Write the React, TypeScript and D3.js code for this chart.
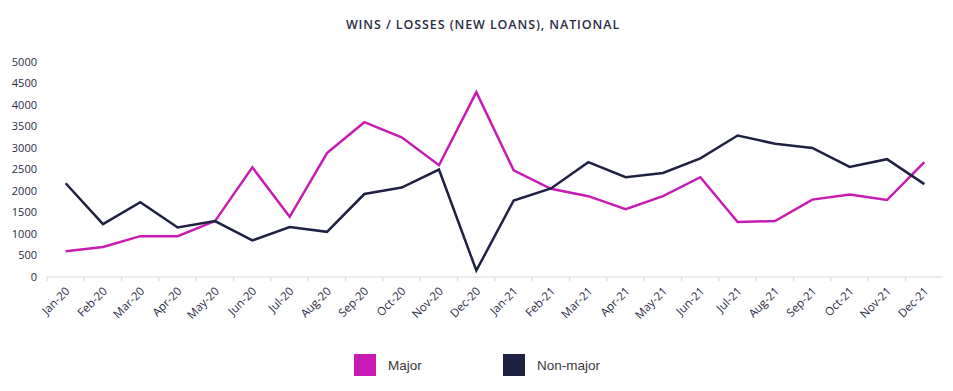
import * as d3 from 'd3';

const months = [
  'Jan-20', 'Feb-20', 'Mar-20', 'Apr-20', 'May-20', 'Jun-20', 'Jul-20', 'Aug-20', 'Sep-20', 'Oct-20', 'Nov-20', 'Dec-20',
  'Jan-21', 'Feb-21', 'Mar-21', 'Apr-21', 'May-21', 'Jun-21', 'Jul-21', 'Aug-21', 'Sep-21', 'Oct-21', 'Nov-21', 'Dec-21',
];
const major = [600, 700, 950, 950, 1300, 2550, 1400, 2880, 3600, 3250, 2600, 4300, 2480, 2050, 1880, 1580, 1880, 2320, 1280, 1300, 1800, 1920, 1790, 2670];
const nonMajor = [2180, 1230, 1740, 1150, 1300, 850, 1160, 1050, 1930, 2080, 2500, 150, 1780, 2060, 2670, 2320, 2420, 2760, 3290, 3100, 3000, 2560, 2740, 2160];
const yTicks = [0, 500, 1000, 1500, 2000, 2500, 3000, 3500, 4000, 4500, 5000];

const series = [
  { name: 'Major', values: major, color: '#C71BB3' },
  { name: 'Non-major', values: nonMajor, color: '#1E2142' },
];

const W = 953;
const H = 391;
const margin = { top: 62, right: 10, bottom: 114, left: 47 };

export default function App() {
  const x = d3.scaleBand<string>().domain(months).range([margin.left, W - margin.right]);
  const y = d3.scaleLinear().domain([0, 5000]).range([H - margin.bottom, margin.top]);
  const cx = (i: number) => (x(months[i]) ?? 0) + x.bandwidth() / 2;
  const line = (vals: number[]) =>
    d3.line<number>().x((_, i) => cx(i)).y((d) => y(d))(vals) ?? '';
  const base = y(0);
  const font = '"Open Sans", Lato, sans-serif';

  return (
    <svg width={W} height={H} style={{ position: 'absolute', left: 0, top: 0, background: '#fff' }}>
      <text x={483} y={29} textAnchor="middle" fontFamily={font} fontWeight={600} fontSize={12.5} letterSpacing={0.9} fill="#2a2c45">
        WINS / LOSSES (NEW LOANS), NATIONAL
      </text>

      {yTicks.map((t) => (
        <text key={t} x={37} y={y(t)} dy="0.35em" textAnchor="end" fontFamily={font} fontSize={11} fill="#2a2c45">
          {t}
        </text>
      ))}

      <line x1={margin.left} x2={W - margin.right} y1={base} y2={base} stroke="#d4d4e2" strokeWidth={1} />
      {months.map((m, i) => (
        <g key={m}>
          <line x1={x(m)} x2={x(m)} y1={base} y2={base + 4} stroke="#d4d4e2" />
          <text
            transform={`translate(${cx(i) + 2},${base + 12}) rotate(-45)`}
            textAnchor="end"
            dy="0.35em"
            fontFamily={font}
            fontSize={11.5}
            fill="#2a2c45"
          >
            {m}
          </text>
        </g>
      ))}

      {series.map((s) => (
        <path key={s.name} d={line(s.values)} fill="none" stroke={s.color} strokeWidth={2.5} strokeLinejoin="miter" />
      ))}

      {series.map((s, i) => (
        <g key={s.name} transform={`translate(${354 + i * 149},354)`}>
          <rect width={22} height={22} fill={s.color} />
          <text x={34} y={11} dy="0.35em" fontFamily='"Liberation Sans", Arial, sans-serif' fontSize={13.5} fill="#3a3a3a">
            {s.name}
          </text>
        </g>
      ))}
    </svg>
  );
}
